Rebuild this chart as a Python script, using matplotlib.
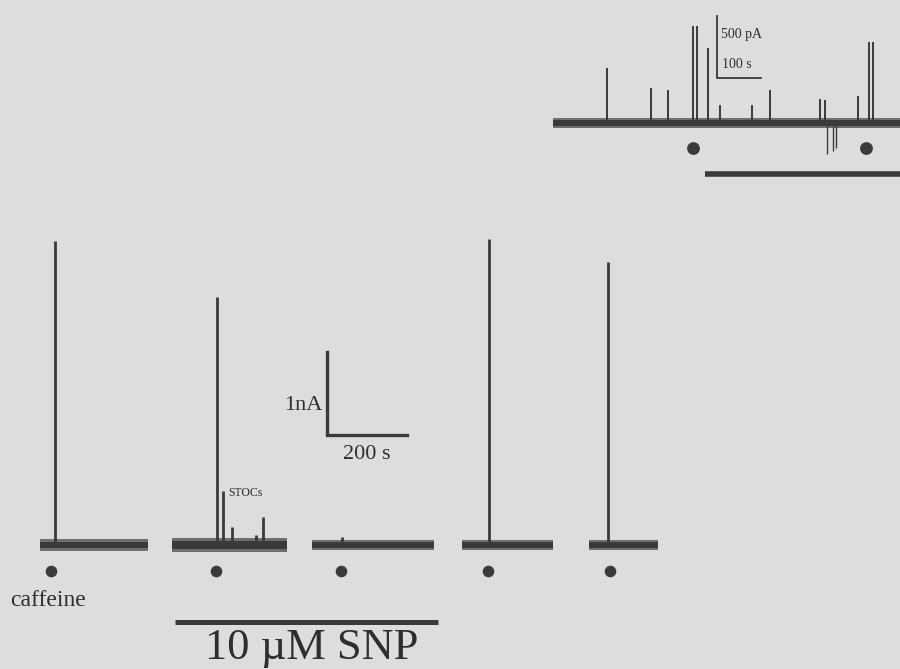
import matplotlib
matplotlib.use("Agg")
import matplotlib.pyplot as plt

# ---------------- data: main recording (s, nA) ----------------
seg_start = [100, 430, 780, 1155, 1472]          # s
seg_end = [370, 717, 1085, 1382, 1645]           # s
seg_noise = [0.07, 0.08, 0.065, 0.065, 0.065]    # nA half-amplitude of baseline noise
spike_t = [137, 542, 557, 580, 640, 657, 855, 1222, 1520]      # s
spike_amp = [3.65, 2.98, 0.65, 0.22, 0.12, 0.34, 0.10, 3.67, 3.40]  # nA
caffeine_t = [127, 540, 852, 1220, 1525]         # s
snp_on, snp_off = 437, 1095                      # s

# ---------------- data: inset recording (s, pA) ----------------
ins_start, ins_end = 1257, 2060
ins_noise = 40                                   # pA
ins_spike_t = [1380, 1480, 1518, 1575, 1584, 1609, 1636, 1709, 1750, 1864, 1875, 1950, 1975, 1984]
ins_spike_amp = [443, 282, 266, 782, 782, 605, 145, 145, 266, 193, 185, 218, 653, 653]
ins_dip_t = [1880, 1892, 1900]
ins_dip_amp = [-250, -230, -200]
ins_caffeine_t = [1575, 1968]
ins_drug_on = 1602

BG = "#dddddc"
TR = "#3a3a3a"
TR_LIGHT = "#6e6e6e"
TXT = "#2e2e2e"
SERIF = ["Liberation Serif", "DejaVu Serif"]

fig = plt.figure(figsize=(9, 6.69), dpi=100, facecolor=BG)

# main axes: 2.5 s per px, 0.012 nA per px
ax = fig.add_axes([0, 0, 1, 1])
ax.set_xlim(0, 2250)
ax.set_ylim(-1.488, 6.54)
ax.set_facecolor(BG)
ax.axis("off")

for s, e, n in zip(seg_start, seg_end, seg_noise):
    ax.fill_between([s, e], [-n, -n], [n, n], color=TR_LIGHT, lw=0)
    ax.fill_between([s, e], [-0.55 * n] * 2, [0.55 * n] * 2, color=TR, lw=0)
ax.vlines(spike_t, 0, spike_amp, color=TR, lw=2.0)
ax.scatter(caffeine_t, [-0.31] * len(caffeine_t), s=70, color=TR, zorder=3, lw=0)
ax.plot([snp_on, snp_off], [-0.924, -0.924], color=TR, lw=3.6, solid_capstyle="butt")

# scale bar 1 nA / 200 s
ax.plot([817, 817, 1017], [2.32, 1.32, 1.32], color=TR, lw=2.4, solid_joinstyle="miter")
ax.text(805, 1.68, "1nA", ha="right", va="center", fontsize=16, family=SERIF, color=TXT)
ax.text(917, 1.09, "200 s", ha="center", va="center", fontsize=16, family=SERIF, color=TXT)
ax.text(570, 0.62, "STOCs", ha="left", va="center", fontsize=8.5, family=SERIF, color=TXT)
ax.text(25, -0.66, "caffeine", ha="left", va="center", fontsize=17, family=SERIF, color=TXT)
ax.text(780, -1.37, "10 \u00b5M SNP", ha="center", va="baseline", fontsize=32, family=SERIF, color=TXT)

# inset axes: 2.273 s per px, 8.06 pA per px
ax2 = fig.add_axes([0, 0, 1, 1])
ax2.set_xlim(0, 2045)
ax2.set_ylim(-4403, 991)
ax2.patch.set_alpha(0)
ax2.axis("off")

ax2.fill_between([ins_start, ins_end], [-ins_noise] * 2, [ins_noise] * 2, color=TR_LIGHT, lw=0)
ax2.fill_between([ins_start, ins_end], [-0.55 * ins_noise] * 2, [0.55 * ins_noise] * 2, color=TR, lw=0)
ax2.vlines(ins_spike_t, 0, ins_spike_amp, color=TR, lw=1.4)
ax2.vlines(ins_dip_t, ins_dip_amp, 0, color=TR, lw=1.0)
ax2.scatter(ins_caffeine_t, [-201] * len(ins_caffeine_t), s=85, color=TR, zorder=3, lw=0)
ax2.plot([ins_drug_on, 2100], [-411, -411], color=TR, lw=4.0, solid_capstyle="butt")

ax2.plot([1630, 1630, 1730], [863, 363, 363], color=TR, lw=1.3)
ax2.text(1638, 709, "500 pA", ha="left", va="center", fontsize=10, family=SERIF, color=TXT)
ax2.text(1640, 467, "100 s", ha="left", va="center", fontsize=10, family=SERIF, color=TXT)

fig.savefig("out.png", dpi=100, facecolor=BG)
